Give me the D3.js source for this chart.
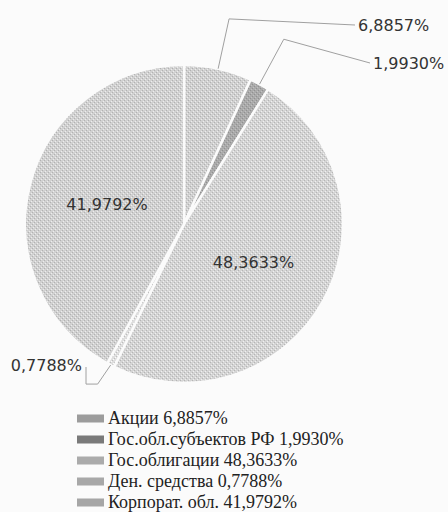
<!DOCTYPE html>
<html>
<head>
<meta charset="utf-8">
<script src="https://cdn.jsdelivr.net/npm/d3@7"></script>
<style>
  html, body { margin: 0; padding: 0; background: #fbfbfb; }
  svg { display: block; }
</style>
</head>
<body>
<svg id="chart" width="448" height="512"></svg>
<script>
'use strict';

// data
var categories = ['Акции', 'Гос.обл.субъектов РФ', 'Гос.облигации', 'Ден. средства', 'Корпорат. обл.'];
var shares = [6.8857, 1.9930, 48.3633, 0.7788, 41.9792];
var shareLabels = ['6,8857%', '1,9930%', '48,3633%', '0,7788%', '41,9792%'];

// look
var sliceFills = ['#d0d0d0', '#aaaaaa', '#d4d4d4', '#dedede', '#d1d1d1'];
var swatchFills = ['#9c9c9c', '#7a7a7a', '#ababab', '#a8a8a8', '#a6a6a6'];
var labelFont = "'DejaVu Sans', Verdana, sans-serif";
var legendFont = "'Liberation Serif', 'Times New Roman', serif";

var svg = d3.select('#chart');
var cx = 184, cy = 224, radius = 159;

//Dotted fills to mimic the printed texture
var defs = svg.append('defs');
sliceFills.forEach(function(col, i){
	var p = defs.append('pattern')
		.attr('id', 'tex' + i)
		.attr('width', 4).attr('height', 4)
		.attr('patternUnits', 'userSpaceOnUse');
	p.append('rect').attr('width', 4).attr('height', 4).attr('fill', col);
	var dark = d3.color(col).darker(0.45);
	var light = d3.color(col).brighter(0.35);
	p.append('rect').attr('x', 0).attr('y', 0).attr('width', 1).attr('height', 1).attr('fill', dark);
	p.append('rect').attr('x', 2).attr('y', 2).attr('width', 1).attr('height', 1).attr('fill', dark);
	p.append('rect').attr('x', 1).attr('y', 3).attr('width', 1).attr('height', 1).attr('fill', light);
	p.append('rect').attr('x', 3).attr('y', 1).attr('width', 1).attr('height', 1).attr('fill', light);
});

var pie = d3.pie().sort(null).value(function(d){ return d; });
var arcs = pie(shares);
var arc = d3.arc().innerRadius(0).outerRadius(radius);
var rimArc = d3.arc().innerRadius(radius).outerRadius(radius);
var elbowArc = d3.arc().innerRadius(radius + 51).outerRadius(radius + 51);

var g = svg.append('g').attr('transform', 'translate(' + cx + ',' + cy + ')');

g.selectAll('path.slice')
	.data(arcs)
	.enter().append('path')
	.attr('class', 'slice')
	.attr('d', arc)
	.attr('fill', function(d, i){ return 'url(#tex' + i + ')'; })
	.attr('stroke', '#fbfbfb')
	.attr('stroke-width', 2.5);

//Label placement: inside for the big slices, outside with leaders for the small ones
var outside = {
	0: {x: 358 - cx, y: 25 - cy, anchor: 'start'},
	1: {x: 373 - cx, y: 63 - cy, anchor: 'start'},
	3: {x: 82 - cx, y: 365 - cy, anchor: 'end'}
};

var addLabel = function(x, y, anchor, txt){
	g.append('text')
		.attr('x', x).attr('y', y)
		.attr('text-anchor', anchor)
		.attr('dy', '0.35em')
		.style('font-family', labelFont)
		.style('font-size', '16px')
		.style('fill', '#333')
		.text(txt);
};

arcs.forEach(function(d, i){
	var pos = outside[i];
	if(!pos){
		var c = arc.centroid(d);
		addLabel(c[0], c[1], 'middle', shareLabels[i]);
		return;
	}

	var rim = rimArc.centroid(d);
	var pts;
	if(pos.anchor === 'start'){
		var elbow = elbowArc.centroid(d);
		pts = [rim, elbow, [pos.x - 3, pos.y]];
	} else {
		//label sits above-left, leader hooks under it
		pts = [rim, [rim[0] - 13, rim[1] + 19], [pos.x + 4, rim[1] + 19], [pos.x + 4, pos.y + 2]];
	}
	g.append('polyline')
		.attr('points', pts.map(function(p){ return p.join(','); }).join(' '))
		.attr('fill', 'none')
		.attr('stroke', '#a0a0a0')
		.attr('stroke-width', 1);

	addLabel(pos.x, pos.y, pos.anchor, shareLabels[i]);
});

//Legend
var legendY = d3.scaleBand().domain(d3.range(categories.length)).range([408, 513]).paddingInner(0);
var legend = svg.append('g');
var rows = legend.selectAll('g.row')
	.data(categories)
	.enter().append('g')
	.attr('class', 'row')
	.attr('transform', function(d, i){ return 'translate(0,' + (legendY(i) + legendY.bandwidth() / 2) + ')'; });

rows.append('rect')
	.attr('x', 77).attr('y', -4)
	.attr('width', 27).attr('height', 8)
	.attr('fill', function(d, i){ return swatchFills[i]; });

rows.append('text')
	.attr('x', 108)
	.attr('dy', '0.33em')
	.style('font-family', legendFont)
	.style('font-size', '18px')
	.style('fill', '#222')
	.text(function(d, i){ return d + ' ' + shareLabels[i]; });
</script>
</body>
</html>
